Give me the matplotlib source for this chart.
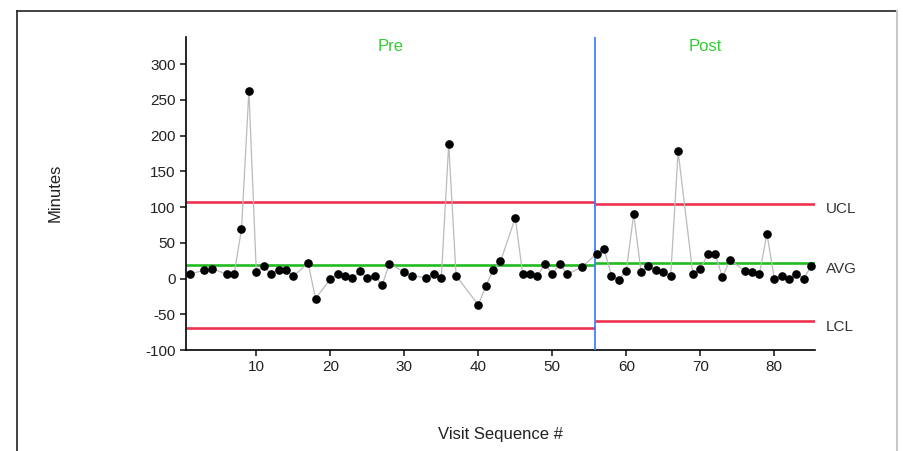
import matplotlib
matplotlib.use("Agg")
import matplotlib.pyplot as plt
from matplotlib.lines import Line2D

plt.rcParams['font.family'] = ['Liberation Sans', 'DejaVu Sans']
plt.rcParams['axes.unicode_minus'] = False

# Visit sequence numbers with recorded minutes (some visits have no value)
visit = [1, 3, 4, 6, 7, 8, 9, 10, 11, 12, 13, 14, 15, 17, 18, 20, 21, 22, 23,
         24, 25, 26, 27, 28, 30, 31, 33, 34, 35, 36, 37, 40, 41, 42, 43, 45,
         46, 47, 48, 49, 50, 51, 52, 54,
         56, 57, 58, 59, 60, 61, 62, 63, 64, 65, 66, 67, 69, 70, 71, 72, 73,
         74, 76, 77, 78, 79, 80, 81, 82, 83, 84, 85]
minutes = [6, 12, 14, 6, 6, 69, 263, 9, 17, 7, 12, 12, 3, 22, -28, -1, 7, 4, 1,
           10, 1, 4, -9, 21, 9, 4, 1, 7, 1, 188, 4, -37, -11, 12, 24, 85,
           6, 6, 3, 21, 6, 21, 6, 16,
           35, 41, 4, -2, 11, 90, 9, 17, 12, 9, 4, 178, 6, 13, 34, 34, 2,
           26, 11, 9, 6, 63, 0, 4, 0, 7, 0, 18]

# Phase boundary and control limits per phase
phase_names = ["Pre", "Post"]
phase_bounds = [(0.5, 55.75), (55.75, 85.5)]
ucl = [107, 104.5]
avg = [19.5, 21.5]
lcl = [-69, -59.5]
limit_labels = ["UCL", "AVG", "LCL"]

W, H = 904, 451
fig = plt.figure(figsize=(W / 100, H / 100), dpi=100)

# Panel frame
fig.add_artist(Line2D([17 / W, 17 / W], [0, 1 - 11 / H], color="#222222", lw=1.2))
fig.add_artist(Line2D([17 / W, 897 / W], [1 - 11 / H, 1 - 11 / H], color="#222222", lw=1.2))
fig.add_artist(Line2D([897 / W, 897 / W], [0, 1 - 11 / H], color="#c8c8c8", lw=1.5))

ax = fig.add_axes([186 / W, 1 - 350 / H, (815 - 186) / W, (350 - 37) / H])

red = "#ee3350"
green = "#22bb22"
for (x0, x1), u, a, l in zip(phase_bounds, ucl, avg, lcl):
    ax.plot([x0, x1], [u, u], color=red, lw=1.9, solid_capstyle="butt", zorder=2)
    ax.plot([x0, x1], [l, l], color=red, lw=1.9, solid_capstyle="butt", zorder=2)
    ax.plot([x0, x1], [a, a], color=green, lw=1.9, solid_capstyle="butt", zorder=2)

ax.axvline(phase_bounds[0][1], color="#3377ff", lw=1.2, zorder=3)

ax.plot(visit, minutes, color="#bbbbbb", lw=0.9, zorder=4)
ax.plot(visit, minutes, "o", color="black", ms=5.2, zorder=5)

for name, (x0, x1) in zip(phase_names, phase_bounds):
    ax.text((x0 + x1) / 2, 325, name, color="#33cc33", fontsize=12,
            ha="center", va="center")

for lab, val in zip(limit_labels, [ucl[1], avg[1], lcl[1]]):
    ax.annotate(lab, xy=(1, val), xycoords=("axes fraction", "data"),
                xytext=(8, -4), textcoords="offset points",
                color="#333333", fontsize=11, ha="left", va="center")

ax.set_xlim(0.5, 85.5)
ax.set_ylim(-100, 338)
ax.set_xticks([10, 20, 30, 40, 50, 60, 70, 80])
ax.set_yticks([-100, -50, 0, 50, 100, 150, 200, 250, 300])
ax.spines["top"].set_visible(False)
ax.spines["right"].set_visible(False)
ax.spines["left"].set_linewidth(1.2)
ax.spines["bottom"].set_linewidth(1.2)
ax.tick_params(direction="out", length=4, width=1.2, labelsize=11, colors="#222222")

fig.text(55 / W, 1 - 193 / H, "Minutes", fontsize=12, color="#222222",
         rotation=90, ha="center", va="center")
fig.text(500 / W, 1 - 435 / H, "Visit Sequence #", fontsize=12,
         color="#222222", ha="center", va="center")

fig.savefig("out.png", dpi=100)
